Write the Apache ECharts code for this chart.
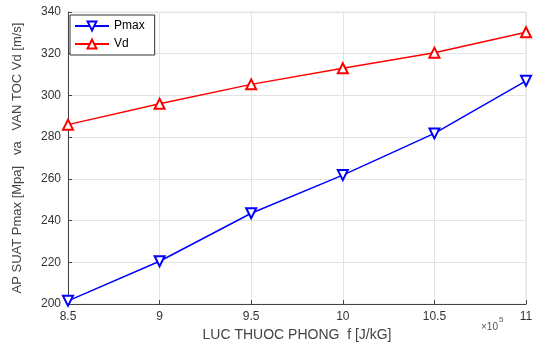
<!DOCTYPE html>
<html><head><meta charset="utf-8">
<script src="https://cdn.jsdelivr.net/npm/echarts@6/dist/echarts.min.js"></script>
<style>html,body{margin:0;padding:0;background:#fff}#c{width:535px;height:347px}</style>
</head><body><div id="c"></div>
<script>
const xValues = [8.5, 9, 9.5, 10, 10.5, 11];
const pmax = [201.5, 220.5, 243.5, 261.8, 281.8, 307];
const vd = [286, 296, 305.3, 313, 320.5, 330.3];
const xTicks = ['8.5','9','9.5','10','10.5','11'];

const chart = echarts.init(document.getElementById('c'));
const font = 'Liberation Sans, Arial, sans-serif';
chart.setOption({
  animation: false,
  grid: {left: 68, right: 9, top: 12, bottom: 43, show: true, borderColor: '#e6e6e6', borderWidth: 1,
         containLabel: false, outerBoundsMode: 'none'},
  legend: {
    left: 70, top: 15, orient: 'vertical', itemGap: 6, itemWidth: 34, itemHeight: 11,
    borderColor: '#333', borderWidth: 1, padding: [5, 10, 5, 4], backgroundColor: '#fff',
    textStyle: {fontFamily: font, fontSize: 12, color: '#000'},
    data: ['Pmax', 'Vd']
  },
  xAxis: {
    type: 'value', min: 8.5, max: 11, interval: 0.5,
    name: 'LUC THUOC PHONG  f [J/kG]', nameLocation: 'middle', nameGap: 24,
    nameTextStyle: {fontFamily: font, fontSize: 14, color: '#444'},
    axisLine: {lineStyle: {color: '#444'}},
    axisTick: {inside: true, length: 4, lineStyle: {color: '#444'}},
    axisLabel: {fontFamily: font, fontSize: 12, color: '#333', margin: 7,
      formatter: v => { const i = xValues.indexOf(v); return i >= 0 ? xTicks[i] : ''; }},
    splitLine: {show: true, lineStyle: {color: '#e3e3e3'}}
  },
  yAxis: {
    type: 'value', min: 200, max: 340, interval: 20,
    name: 'AP SUAT Pmax [Mpa]   va   VAN TOC Vd [m/s]', nameLocation: 'middle', nameGap: 44,
    nameTextStyle: {fontFamily: font, fontSize: 13, color: '#444'},
    axisLine: {show: true, lineStyle: {color: '#444'}},
    axisTick: {show: true, inside: true, length: 4, lineStyle: {color: '#444'}},
    axisLabel: {fontFamily: font, fontSize: 12, color: '#333', margin: 7},
    splitLine: {show: true, lineStyle: {color: '#e3e3e3'}}
  },
  graphic: [{
    type: 'text', left: 481, top: 322,
    style: {text: '×10', fontFamily: font, fontSize: 10, fill: '#555'}
  }, {
    type: 'text', left: 499, top: 316,
    style: {text: '5', fontFamily: font, fontSize: 8, fill: '#555'}
  }],
  series: [{
    name: 'Pmax', type: 'line', data: xValues.map((x, i) => [x, pmax[i]]),
    color: '#0000ff', lineStyle: {width: 1.5},
    symbol: 'emptyTriangle', symbolRotate: 180, symbolSize: 10,
    itemStyle: {borderWidth: 1.5}
  }, {
    name: 'Vd', type: 'line', data: xValues.map((x, i) => [x, vd[i]]),
    color: '#ff0000', lineStyle: {width: 1.5},
    symbol: 'emptyTriangle', symbolSize: 10,
    itemStyle: {borderWidth: 1.5}
  }]
});
</script></body></html>
